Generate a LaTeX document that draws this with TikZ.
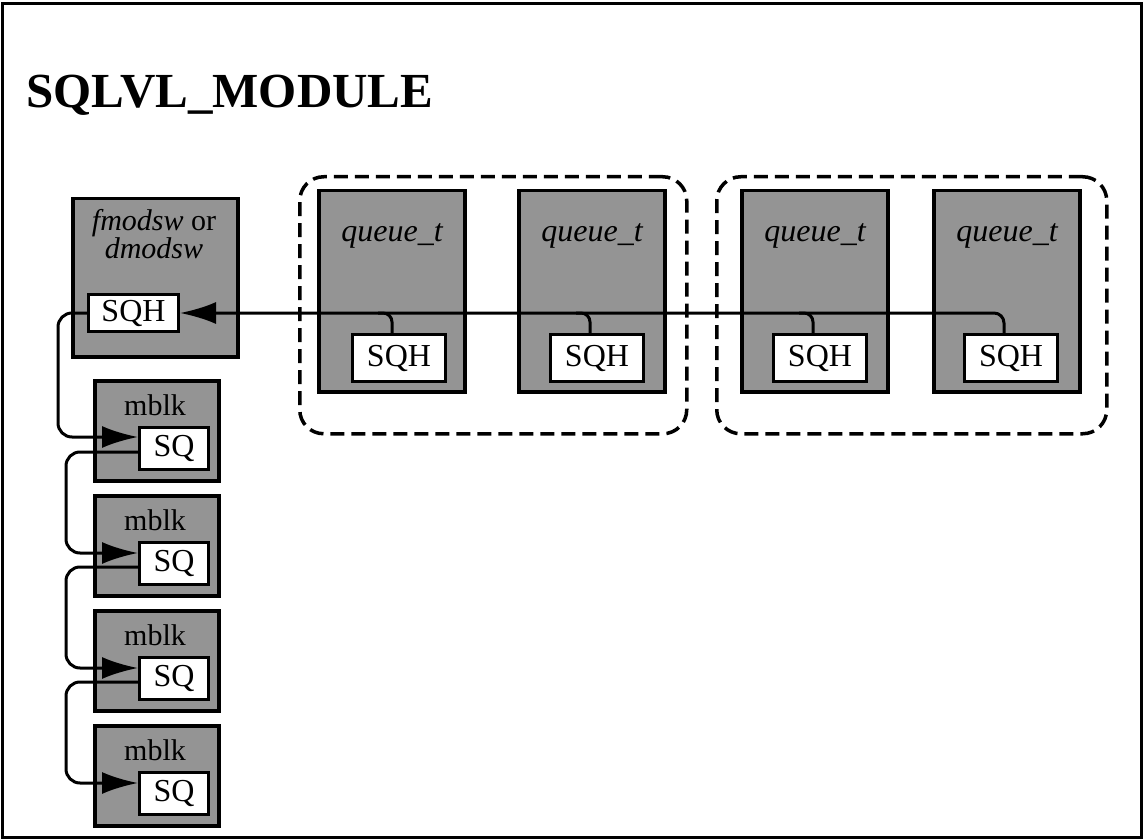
\documentclass[tikz,border=0pt]{standalone}
\usepackage{fontspec}
\setmainfont{Liberation Serif}
\usetikzlibrary{arrows.meta,calc}
\definecolor{boxgray}{gray}{0.58}
\begin{document}
\begin{tikzpicture}[x=1pt,y=-1pt,
  frame/.style={line width=3pt},
  gbox/.style={draw, line width=3.5pt, fill=boxgray, inner sep=0pt, anchor=north west},
  wbox/.style={draw, line width=3pt, fill=white, inner sep=0pt, anchor=north west, font=\fontsize{32}{32}\selectfont},
  grp/.style={draw, line width=3.5pt, dash pattern=on 14pt off 7pt, rounded corners=24pt, inner sep=0pt, anchor=north west},
  conn/.style={line width=3pt},
  tip/.style={-{Latex[length=36pt,width=22pt]}},
  qlbl/.style={font=\fontsize{32}{32}\selectfont\itshape},
  mlbl/.style={font=\fontsize{30}{30}\selectfont}
]
\useasboundingbox (0,0) rectangle (1144,840);
\draw[frame] (2.5,3.5) rectangle (1141,837);

\node[anchor=base west, font=\fontsize{49}{49}\selectfont\bfseries] (title) at (23,108) {SQLVL\_MODULE};

% fmodsw box
\node[gbox, minimum width=165pt, minimum height=158pt] (fm) at (71,197) {};
\node[font=\fontsize{30}{25}\selectfont, align=center] (fmlbl) at (154,234) {\textit{fmodsw} or\\\textit{dmodsw}};
\node[wbox, minimum width=90pt, minimum height=37pt] (fmsqh) at (87,293) {SQH};

% groups
\node[grp, minimum width=387pt, minimum height=257pt] (g1) at (298,175) {};
\node[grp, minimum width=390pt, minimum height=257pt] (g2) at (715,175) {};

% queues
\foreach \i/\x/\s in {1/317/351, 2/517/549, 3/740/772, 4/932/963} {
  \node[gbox, minimum width=146pt, minimum height=201pt] (q\i) at (\x,189) {};
  \node[qlbl] (ql\i) at (\x+75,236) {queue\_t};
  \node[wbox, minimum width=93pt, minimum height=47pt] (qs\i) at (\s,333) {SQH};
  \coordinate (t\i) at ($(qs\i.north west)+(41,0)$);
}

% mblks
\foreach \i/\y in {1/379, 2/494, 3/609, 4/724} {
  \node[gbox, minimum width=124pt, minimum height=100pt] (mb\i) at (93,\y) {};
  \node[mlbl] (ml\i) at (155,\y+26) {mblk};
  \node[wbox, minimum width=69pt, minimum height=42pt] (sq\i) at (138,\y+47) {SQ};
}

% horizontal chain of queue SQHs
\draw[conn, tip, rounded corners=10pt] (t4) |- (fmsqh.east);
\foreach \i in {1,2,3} {
  \draw[conn, rounded corners=9pt] ($(t\i |- fmsqh.east)+(-14,0)$) -| (t\i);
}

% left chain of mblks
\draw[conn, tip, rounded corners=14pt] (fmsqh.west) -- ++(-29,0) |- ($(sq1.north west)+(0,11)$);
\foreach \i/\j in {1/2, 2/3, 3/4} {
  \draw[conn, tip, rounded corners=14pt] ($(sq\i.north west)+(0,26)$) -- ++(-72,0) |- ($(sq\j.north west)+(0,12)$);
}
\end{tikzpicture}
\end{document}
